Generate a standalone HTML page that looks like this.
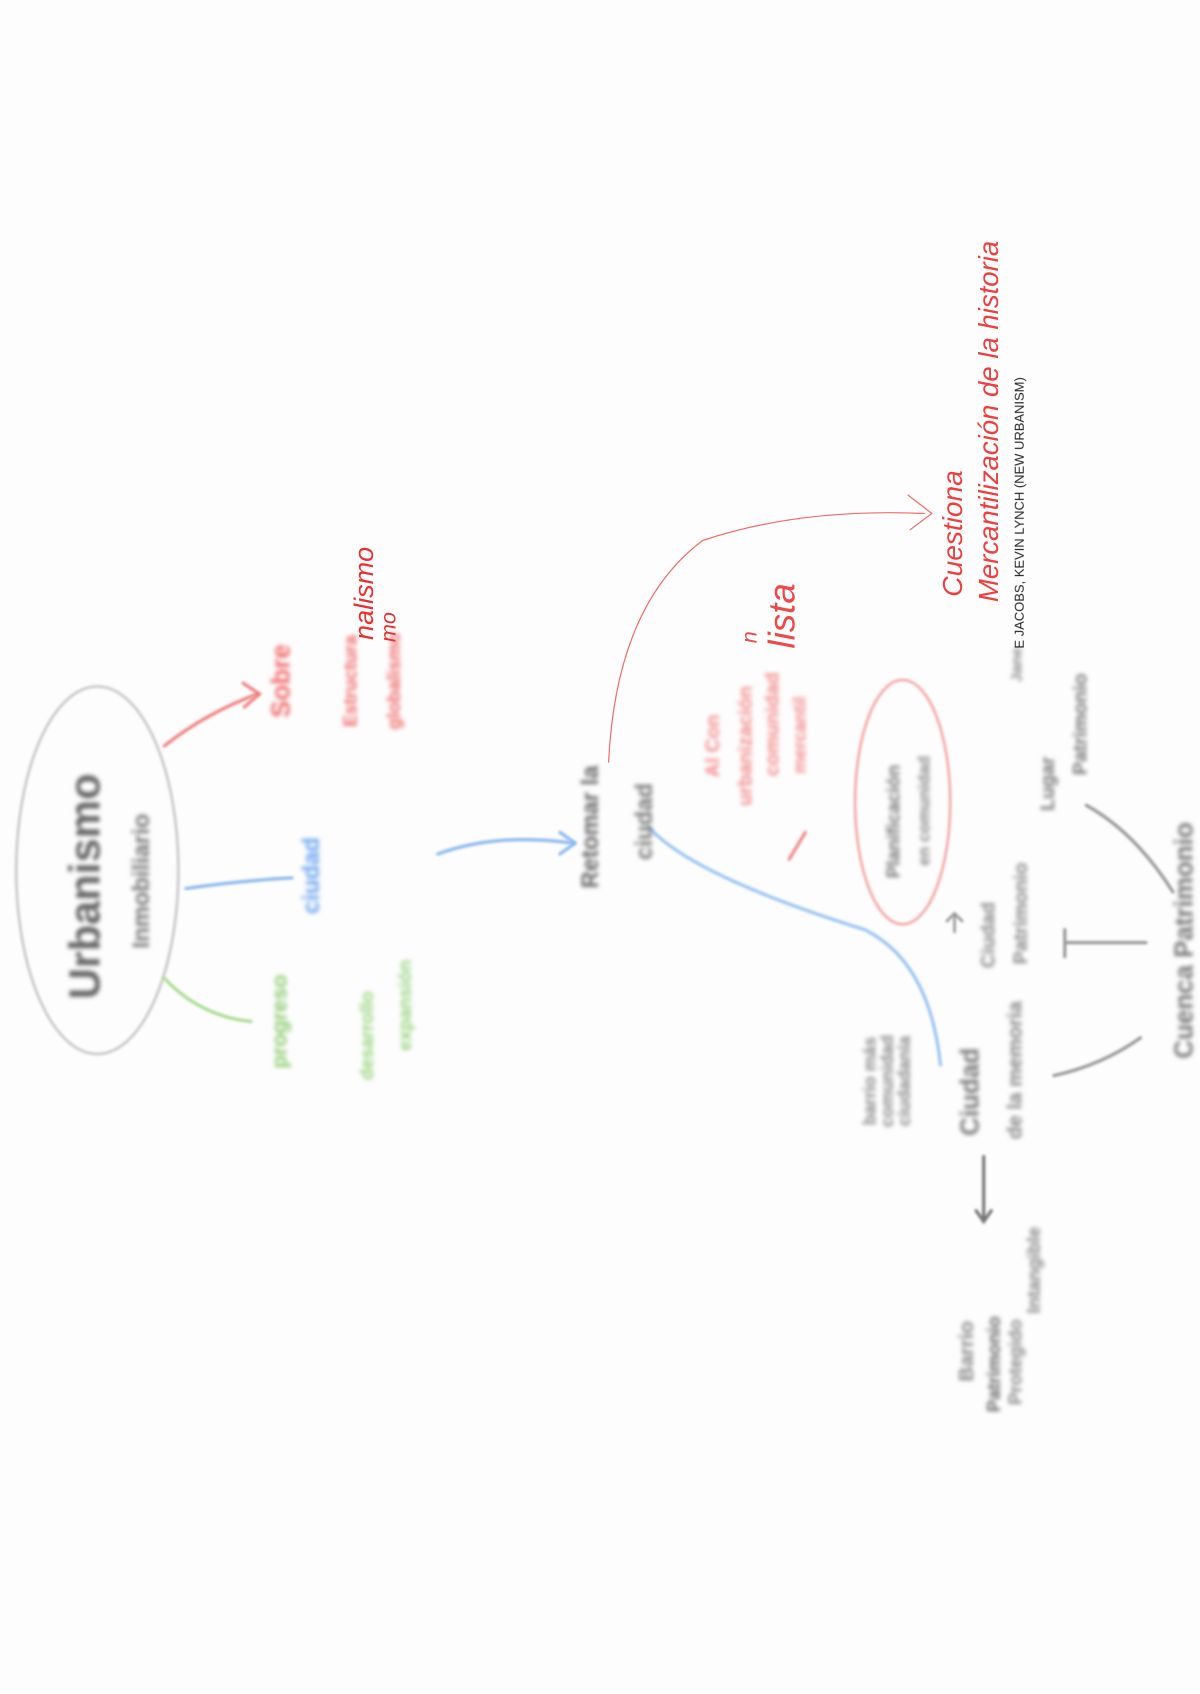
<!DOCTYPE html>
<html><head><meta charset="utf-8"><style>
html,body{margin:0;padding:0;background:#fdfdfd;}
svg{display:block}
text{font-family:"Liberation Sans",sans-serif;}
</style></head><body>
<svg width="1200" height="1694" viewBox="0 0 1200 1694" xmlns="http://www.w3.org/2000/svg">
<defs>
<filter id="b" x="-20%" y="-20%" width="140%" height="140%"><feGaussianBlur stdDeviation="2"/></filter>
<filter id="b1" x="-20%" y="-20%" width="140%" height="140%"><feGaussianBlur stdDeviation="1.2"/></filter>
</defs>
<rect width="1200" height="1694" fill="#fdfdfd"/>
<g transform="scale(1.081)">
<g fill="none" stroke-linecap="round">
<ellipse cx="90" cy="805" rx="75" ry="170" stroke="#c8c8c8" stroke-width="2.5" filter="url(#b1)"/>
<path d="M152 690 Q190 660 238 642" stroke="#f08080" stroke-width="3" filter="url(#b1)"/>
<path d="M225 632 L240 642 L226 654" stroke="#f08080" stroke-width="3" filter="url(#b1)"/>
<path d="M172 822 Q220 815 270 812" stroke="#8ab8f0" stroke-width="3" filter="url(#b1)"/>
<path d="M300 812 L325 812" stroke="#8ab8f0" stroke-width="3" filter="url(#b1)"/>
<path d="M152 905 Q185 940 232 945" stroke="#a8dc90" stroke-width="3" filter="url(#b1)"/>
<path d="M405 790 Q460 770 530 780" stroke="#8ab8f0" stroke-width="3" filter="url(#b1)"/>
<path d="M518 770 L532 780 L518 790" stroke="#8ab8f0" stroke-width="3" filter="url(#b1)"/>
<path d="M563 705 Q570 560 650 500 Q740 470 855 475" stroke="#f26a6a" stroke-width="1.1"/>
<path d="M840 458 L862 475 L842 490" stroke="#f26a6a" stroke-width="1.1"/>
<path d="M612 733 L640 733" stroke="#f08a8a" stroke-width="3" filter="url(#b1)"/>
<path d="M730 795 L745 770" stroke="#f08a8a" stroke-width="3" filter="url(#b1)"/>
<ellipse cx="835" cy="742" rx="44" ry="113" stroke="#f4a8a8" stroke-width="2.5" filter="url(#b1)"/>
<path d="M600 765 Q640 810 800 860 Q860 890 870 985" stroke="#9cc4f2" stroke-width="3" filter="url(#b1)"/>
<path d="M883 845 L883 862 M876 852 L883 845 L890 852" stroke="#999" stroke-width="2.5" filter="url(#b1)"/>
<path d="M985 860 L985 885 M985 872 L1060 872" stroke="#999" stroke-width="3" filter="url(#b1)"/>
<path d="M1055 960 Q1020 985 975 995" stroke="#999" stroke-width="3" filter="url(#b1)"/>
<path d="M1085 825 Q1050 770 1005 745" stroke="#999" stroke-width="3" filter="url(#b1)"/>
<path d="M910 1070 L910 1130 M903 1120 L910 1130 L917 1120" stroke="#777" stroke-width="3" filter="url(#b1)"/>
</g>
<g filter="url(#b)" font-weight="bold">
<text transform="translate(92,820) rotate(-90)" text-anchor="middle" font-size="40" fill="#666">Urbanismo</text>
<text transform="translate(138,815) rotate(-90)" text-anchor="middle" font-size="22" fill="#777">Inmobiliario</text>
<text transform="translate(268,630) rotate(-90)" text-anchor="middle" font-size="24" fill="#f06a6a">Sobre</text>
<text transform="translate(330,630) rotate(-90)" text-anchor="middle" font-size="17" fill="#f06a6a">Estructura</text>
<text transform="translate(370,630) rotate(-90)" text-anchor="middle" font-size="17" fill="#f06a6a">globalismo</text>
<text transform="translate(295,810) rotate(-90)" text-anchor="middle" font-size="22" fill="#6aa4f0">ciudad</text>
<text transform="translate(265,945) rotate(-90)" text-anchor="middle" font-size="20" fill="#8ccc70">progreso</text>
<text transform="translate(345,958) rotate(-90)" text-anchor="middle" font-size="17" fill="#98d480">desarrollo</text>
<text transform="translate(380,930) rotate(-90)" text-anchor="middle" font-size="17" fill="#98d480">expansión</text>
<text transform="translate(553,765) rotate(-90)" text-anchor="middle" font-size="22" fill="#666">Retomar la</text>
<text transform="translate(603,760) rotate(-90)" text-anchor="middle" font-size="22" fill="#777">ciudad</text>
<text transform="translate(665,690) rotate(-90)" text-anchor="middle" font-size="18" fill="#f38a8a">Al Con</text>
<text transform="translate(695,690) rotate(-90)" text-anchor="middle" font-size="18" fill="#f38a8a">urbanización</text>
<text transform="translate(720,670) rotate(-90)" text-anchor="middle" font-size="18" fill="#f38a8a">comunidad</text>
<text transform="translate(745,680) rotate(-90)" text-anchor="middle" font-size="16" fill="#f38a8a">mercantil</text>
<text transform="translate(832,760) rotate(-90)" text-anchor="middle" font-size="17" fill="#777">Planificación</text>
<text transform="translate(860,750) rotate(-90)" text-anchor="middle" font-size="15" fill="#888">en comunidad</text>
<text transform="translate(810,1000) rotate(-90)" text-anchor="middle" font-size="16" fill="#888">barrio más</text>
<text transform="translate(826,1000) rotate(-90)" text-anchor="middle" font-size="16" fill="#888">comunidad</text>
<text transform="translate(842,1000) rotate(-90)" text-anchor="middle" font-size="16" fill="#888">ciudadanía</text>
<text transform="translate(905,1010) rotate(-90)" text-anchor="middle" font-size="24" fill="#777">Ciudad</text>
<text transform="translate(945,990) rotate(-90)" text-anchor="middle" font-size="19" fill="#888">de la memoria</text>
<text transform="translate(920,865) rotate(-90)" text-anchor="middle" font-size="18" fill="#888">Ciudad</text>
<text transform="translate(950,845) rotate(-90)" text-anchor="middle" font-size="18" fill="#888">Patrimonio</text>
<text transform="translate(975,725) rotate(-90)" text-anchor="middle" font-size="18" fill="#777">Lugar</text>
<text transform="translate(1005,670) rotate(-90)" text-anchor="middle" font-size="18" fill="#777">Patrimonio</text>
<text transform="translate(945,615) rotate(-90)" text-anchor="middle" font-size="14" fill="#888">Jane</text>
<text transform="translate(1103,870) rotate(-90)" text-anchor="middle" font-size="24" fill="#777">Cuenca Patrimonio</text>
<text transform="translate(900,1250) rotate(-90)" text-anchor="middle" font-size="19" fill="#888">Barrio</text>
<text transform="translate(925,1262) rotate(-90)" text-anchor="middle" font-size="17" fill="#666">Patrimonio</text>
<text transform="translate(945,1260) rotate(-90)" text-anchor="middle" font-size="17" fill="#888">Protegido</text>
<text transform="translate(962,1175) rotate(-90)" text-anchor="middle" font-size="17" fill="#888">Intangible</text>
</g>
<text transform="translate(345,592) rotate(-90)" font-size="25" fill="#e83030" font-style="italic">nalismo</text>
<text transform="translate(366,594) rotate(-90)" font-size="20" fill="#e83030" font-style="italic">mo</text>
<text transform="translate(735,600) rotate(-90)" font-size="34" font-style="italic" fill="#ea4a4a">lista</text>
<text transform="translate(700,595) rotate(-90)" font-size="20" font-style="italic" fill="#ea4a4a">n</text>
<text transform="translate(890,552) rotate(-90)" font-size="26" font-style="italic" fill="#ec4040">Cuestiona</text>
<text transform="translate(923,557) rotate(-90)" font-size="25.5" font-style="italic" fill="#ec4040">Mercantilización  de la historia</text>
<text transform="translate(947,600) rotate(-90)" font-size="12" fill="#222">E JACOBS, KEVIN LYNCH (NEW URBANISM)</text>
</g>
</svg>
</body></html>
